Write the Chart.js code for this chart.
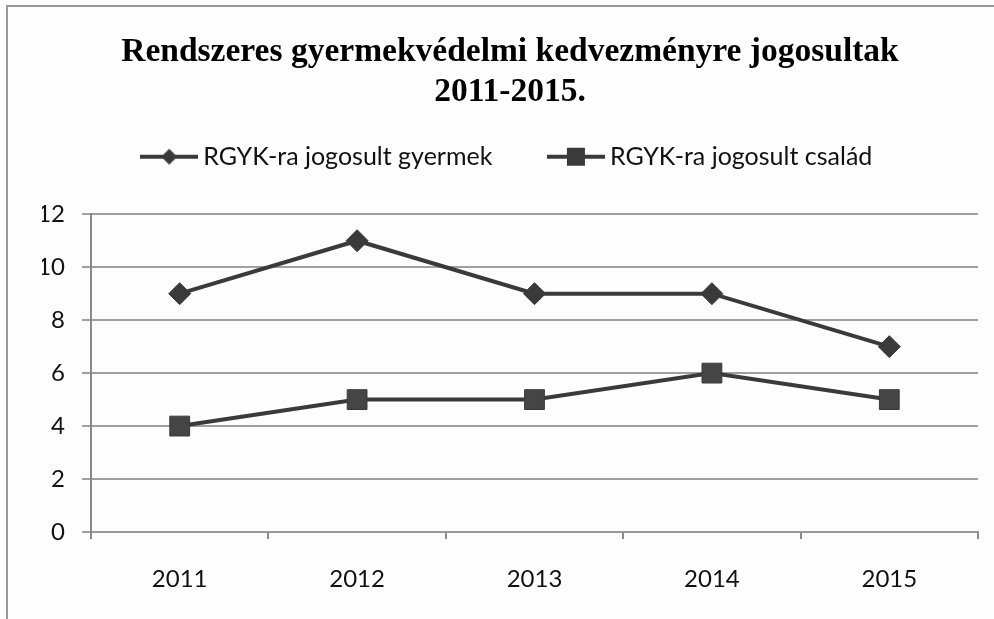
<!DOCTYPE html>
<html>
<head>
<meta charset="utf-8">
<script src="https://cdn.jsdelivr.net/npm/chart.js@4/dist/chart.umd.min.js"></script>
<style>
  html, body { margin: 0; padding: 0; background: #fdfdfd; }
  #wrap { width: 994px; height: 619px; }
</style>
</head>
<body>
<div id="wrap"><canvas id="chart" width="994" height="619"></canvas></div>
<script>
// chart data
const years = ['2011', '2012', '2013', '2014', '2015'];
const gyermek = [9, 11, 9, 9, 7];
const csalad = [4, 5, 5, 6, 5];
const seriesNames = ['RGYK-ra jogosult gyermek', 'RGYK-ra jogosult család'];
const titleLines = ['Rendszeres gyermekvédelmi kedvezményre jogosultak', '2011-2015.'];

const lineColor = '#3a3a3a';

// small legend symbol: line with a marker in the middle
function legendIcon(shape) {
    const c = document.createElement('canvas');
    c.width = 58;
    c.height = 22;
    const ctx = c.getContext('2d');
    ctx.strokeStyle = lineColor;
    ctx.lineWidth = 4;
    ctx.beginPath();
    ctx.moveTo(0, 11);
    ctx.lineTo(58, 11);
    ctx.stroke();
    ctx.fillStyle = lineColor;
    ctx.beginPath();
    if (shape === 'diamond') {
        ctx.moveTo(29, 3);
        ctx.lineTo(37, 11);
        ctx.lineTo(29, 19);
        ctx.lineTo(21, 11);
        ctx.closePath();
    } else {
        ctx.rect(20, 2, 18, 18);
    }
    ctx.fill();
    return c;
}

// page background and the scanned frame edges
const paperPlugin = {
    id: 'paper',
    beforeDraw(chart) {
        const ctx = chart.ctx;
        ctx.save();
        ctx.fillStyle = '#fdfdfd';
        ctx.fillRect(0, 0, chart.width, chart.height);
        ctx.strokeStyle = '#9a9a9a';
        ctx.lineWidth = 2;
        ctx.beginPath();
        ctx.moveTo(7, chart.height);
        ctx.lineTo(7, 6);
        ctx.lineTo(chart.width, 6);
        ctx.stroke();
        ctx.restore();
    }
};

const icons = [legendIcon('diamond'), legendIcon('square')];

new Chart(document.getElementById('chart'), {
    type: 'line',
    data: {
        labels: years,
        datasets: [{
            label: seriesNames[0],
            data: gyermek,
            borderColor: lineColor,
            backgroundColor: lineColor,
            borderWidth: 4,
            pointStyle: 'rectRot',
            pointRadius: 11,
            pointBorderWidth: 1,
            tension: 0
        }, {
            label: seriesNames[1],
            data: csalad,
            borderColor: lineColor,
            backgroundColor: '#454545',
            borderWidth: 4,
            pointStyle: 'rect',
            pointRadius: 14,
            pointBorderWidth: 1,
            tension: 0
        }]
    },
    options: {
        responsive: false,
        animation: false,
        layout: { padding: { left: 42, right: 16, top: 0, bottom: 0 } },
        plugins: {
            title: {
                display: true,
                text: titleLines,
                color: '#000',
                font: { family: '"Liberation Serif", "Times New Roman", serif', size: 33.5, weight: 'bold', lineHeight: 1.19 },
                // negative bottom so the wide legend padding doesn't push the plot down
                padding: { top: 32.5, bottom: -30 }
            },
            subtitle: {
                // empty spacer between legend and plot
                display: true,
                text: '',
                weight: 500,
                font: { size: 10, lineHeight: 1 },
                padding: { top: 25, bottom: 0 }
            },
            legend: {
                display: true,
                labels: {
                    usePointStyle: true,
                    pointStyleWidth: 43,
                    padding: 62,
                    color: '#111',
                    font: { family: 'Lato, "Open Sans", sans-serif', size: 25 },
                    generateLabels(chart) {
                        return chart.data.datasets.map((ds, i) => ({
                            text: ds.label,
                            pointStyle: icons[i],
                            datasetIndex: i,
                            fontColor: '#111',
                            lineWidth: 0,
                            hidden: false
                        }));
                    }
                }
            },
            tooltip: { enabled: false }
        },
        scales: {
            x: {
                offset: true,
                grid: {
                    offset: true,
                    drawOnChartArea: false,
                    color: '#8a8a8a',
                    lineWidth: 2,
                    tickLength: 7
                },
                border: { display: true, color: '#999', width: 2 },
                ticks: {
                    color: '#111',
                    padding: 26,
                    font: { family: 'Lato, "Open Sans", sans-serif', size: 24 }
                },
                afterFit(scale) { scale.height = 87; }
            },
            y: {
                min: 0,
                max: 12,
                grid: {
                    color: '#a0a0a0',
                    lineWidth: 2,
                    tickLength: 9
                },
                border: { display: true, color: '#8a8a8a', width: 2 },
                ticks: {
                    stepSize: 2,
                    color: '#111',
                    padding: 17,
                    font: { family: 'Lato, "Open Sans", sans-serif', size: 24 }
                },
                afterFit(scale) { scale.width = 49; }
            }
        }
    },
    plugins: [paperPlugin]
});
</script>
</body>
</html>
